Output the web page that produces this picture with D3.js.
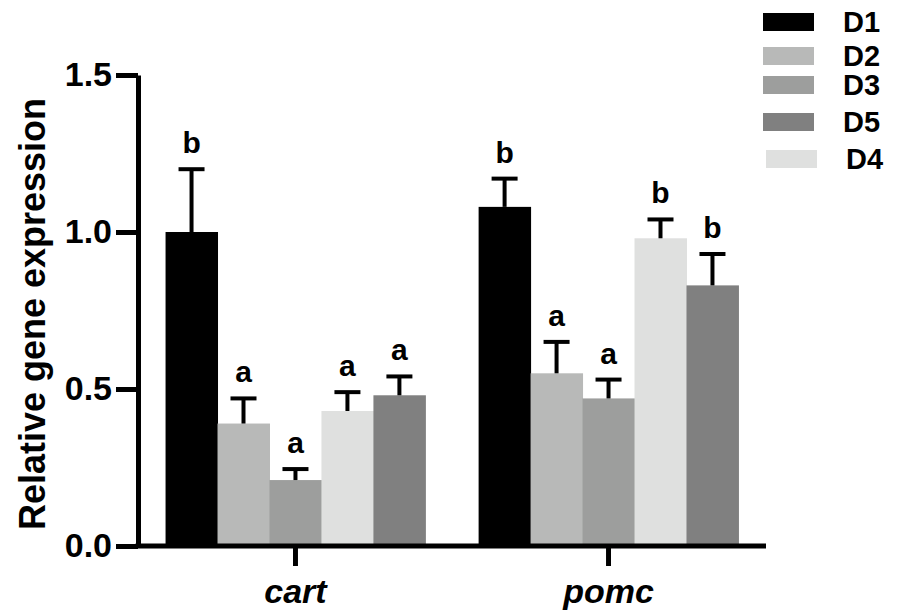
<!DOCTYPE html>
<html>
<head>
<meta charset="utf-8">
<script src="https://cdn.jsdelivr.net/npm/d3@7"></script>
<style>
  body { margin: 0; background: #fff; }
  svg { display: block; font-family: Arial, "Liberation Sans", sans-serif; }
  .axis path, .axis line { stroke: #000; stroke-width: 5; }
  .axis text { fill: #000; font-weight: bold; }
</style>
</head>
<body>
<div id="chart"></div>
<script>
var genes = ["cart", "pomc"];
var series = ["D1", "D2", "D3", "D4", "D5"];
var legendOrder = ["D1", "D2", "D3", "D5", "D4"];

var cartMean = [1.00, 0.39, 0.21, 0.43, 0.48];
var cartErr = [0.20, 0.08, 0.035, 0.06, 0.06];
var cartLetters = ["b", "a", "a", "a", "a"];

var pomcMean = [1.08, 0.55, 0.47, 0.98, 0.83];
var pomcErr = [0.09, 0.10, 0.06, 0.06, 0.10];
var pomcLetters = ["b", "a", "a", "b", "b"];

var yTicks = [0, 0.5, 1.0, 1.5];

var colors = {D1: "#000000", D2: "#b8b9b8", D3: "#9d9e9d", D4: "#dfe0df", D5: "#808080"};

var width = 898, height = 613;
var plot = {left: 138, right: 766, bottom: 546, top: 75};

var rows = [];
genes.forEach(function(g, gi) {
  var m = gi == 0 ? cartMean : pomcMean,
      e = gi == 0 ? cartErr : pomcErr,
      l = gi == 0 ? cartLetters : pomcLetters;
  series.forEach(function(s, i) {
    rows.push({gene: g, key: s, mean: m[i], err: e[i], letter: l[i]});
  });
});

var svg = d3.select("#chart").append("svg")
    .attr("width", width)
    .attr("height", height);

var x0 = d3.scaleBand()
    .domain(genes)
    .range([plot.left, plot.right])
    .paddingInner(0.17)
    .paddingOuter(0.088);

var x1 = d3.scaleBand()
    .domain(series)
    .range([0, x0.bandwidth()]);

var y = d3.scaleLinear()
    .domain([0, 1.5])
    .range([plot.bottom, plot.top]);

// bars
svg.selectAll(".bar")
    .data(rows)
  .enter().append("rect")
    .attr("class", "bar")
    .attr("x", function(d) { return x0(d.gene) + x1(d.key); })
    .attr("width", x1.bandwidth() + 0.5)
    .attr("y", function(d) { return y(d.mean); })
    .attr("height", function(d) { return y(0) - y(d.mean); })
    .style("fill", function(d) { return colors[d.key]; });

// error bars (upper only)
var eb = svg.selectAll(".err")
    .data(rows)
  .enter().append("g")
    .attr("class", "err")
    .attr("transform", function(d) {
      return "translate(" + (x0(d.gene) + x1(d.key) + x1.bandwidth() / 2) + ",0)";
    });

eb.append("line")
    .attr("x1", 0).attr("x2", 0)
    .attr("y1", function(d) { return y(d.mean); })
    .attr("y2", function(d) { return y(d.mean + d.err); })
    .style("stroke", "#000").style("stroke-width", 4);

eb.append("line")
    .attr("x1", -13).attr("x2", 13)
    .attr("y1", function(d) { return y(d.mean + d.err); })
    .attr("y2", function(d) { return y(d.mean + d.err); })
    .style("stroke", "#000").style("stroke-width", 4);

eb.append("text")
    .attr("x", 0)
    .attr("y", function(d) { return y(d.mean + d.err) - 16; })
    .attr("text-anchor", "middle")
    .style("font-size", "30px")
    .style("font-weight", "bold")
    .text(function(d) { return d.letter; });

// axes
svg.append("g")
    .attr("class", "y axis")
    .attr("transform", "translate(" + plot.left + ",0)")
    .call(d3.axisLeft(y).tickValues(yTicks).tickFormat(d3.format(".1f"))
      .tickSize(22).tickSizeOuter(0).tickPadding(4))
    .selectAll("text")
    .style("font-size", "34px");

var xa = svg.append("g")
    .attr("class", "x axis")
    .attr("transform", "translate(0," + plot.bottom + ")")
    .call(d3.axisBottom(x0).tickSize(20).tickSizeOuter(0));

xa.select(".domain").attr("d", "M" + (plot.left - 2.5) + ",0H" + plot.right);

xa.selectAll("text")
    .attr("y", 57)
    .attr("dy", 0)
    .style("font-size", "34px")
    .style("font-style", "italic");

svg.append("text")
    .attr("transform", "translate(45,314) rotate(-90)")
    .attr("text-anchor", "middle")
    .style("font-size", "36px")
    .style("font-weight", "bold")
    .text("Relative gene expression");

// legend (rows are unevenly spaced in the original)
var legendY = [13, 47, 76, 113, 150];
var legendDx = [0, 0, 0, 0, 3];

var lg = svg.selectAll(".legend")
    .data(legendOrder)
  .enter().append("g")
    .attr("class", "legend")
    .attr("transform", function(d, i) {
      return "translate(" + (763 + legendDx[i]) + "," + legendY[i] + ")";
    });

lg.append("rect")
    .attr("width", 51)
    .attr("height", 18)
    .style("fill", function(d) { return colors[d]; });

lg.append("text")
    .attr("x", 80)
    .attr("y", 19)
    .style("font-size", "29px")
    .style("font-weight", "bold")
    .text(function(d) { return d; });
</script>
</body>
</html>
